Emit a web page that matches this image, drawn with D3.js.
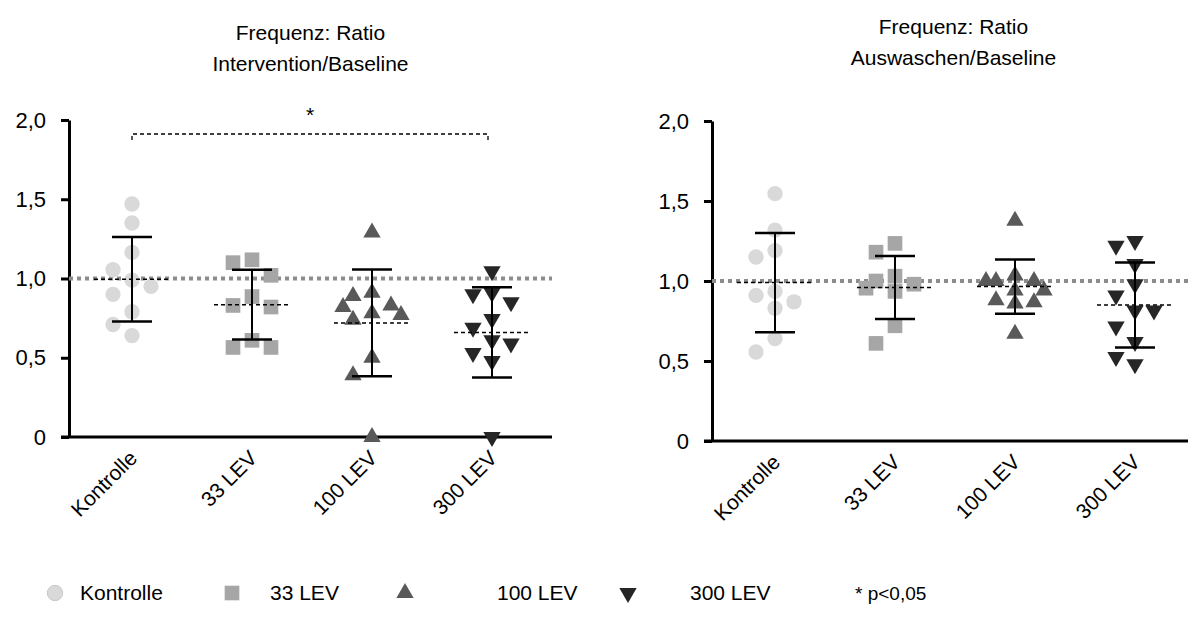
<!DOCTYPE html>
<html lang="de">
<head>
<meta charset="utf-8">
<script src="https://cdnjs.cloudflare.com/ajax/libs/d3/7.8.5/d3.min.js"></script>
<style>
  body { margin: 0; background: #fff; }
  text { font-family: "Liberation Sans", Arial, sans-serif; fill: #000; }
</style>
</head>
<body>
<svg id="chart" width="1188" height="631"></svg>
<script>
// groups and tick values
var groups = ["Kontrolle", "33 LEV", "100 LEV", "300 LEV"];
var yTicks = [0, 0.5, 1, 1.5, 2];

// Intervention / Baseline
var intKontrolle = [1.47, 1.35, 1.165, 1.055, 0.99, 0.95, 0.90, 0.79, 0.71, 0.64];
var int33 = [1.118, 1.10, 1.02, 0.886, 0.83, 0.82, 0.61, 0.565, 0.565];
var int100 = [1.29, 0.91, 0.89, 0.83, 0.82, 0.78, 0.77, 0.74, 0.50, 0.39, 0.0];
var int300 = [1.046, 0.91, 0.90, 0.85, 0.745, 0.69, 0.61, 0.59, 0.53, 0.48, 0.0];
var intMean = [0.995, 0.835, 0.72, 0.66];
var intSD = [0.267, 0.22, 0.337, 0.285];

// Auswaschen / Baseline
var ausKontrolle = [1.546, 1.318, 1.19, 1.15, 0.935, 0.91, 0.87, 0.83, 0.64, 0.556];
var aus33 = [1.235, 1.18, 1.03, 1.0, 0.98, 0.955, 0.935, 0.72, 0.61];
var aus100 = [1.376, 1.034, 1.0, 1.0, 1.0, 0.94, 0.94, 0.88, 0.867, 0.86, 0.67];
var aus300 = [1.25, 1.22, 1.106, 0.98, 0.91, 0.815, 0.815, 0.716, 0.618, 0.525, 0.48];
var ausMean = [0.99, 0.96, 0.965, 0.85];
var ausSD = [0.31, 0.197, 0.17, 0.265];

var refValue = 1.0;
var sigPair = ["Kontrolle", "300 LEV"];

var svg = d3.select("#chart");

var symbolTypes = [d3.symbolCircle, d3.symbolSquare, d3.symbolTriangle, d3.symbolTriangle];
var symbolSizes = [185, 215, 130, 130];
var symbolRot = [0, 0, 0, 180];
var fills = ["#d9d9d9", "#a6a6a6", "#595959", "#262626"];

var fmt = function(d) { return d === 0 ? "0" : d3.format(".1f")(d).replace(".", ","); };

function drawPanel(opt) {
  var g = svg.append("g");
  var y = d3.scaleLinear().domain([0, 2]).range([opt.y0, opt.y2]);
  var x = d3.scalePoint().domain(groups).range([opt.x0 + 3, opt.x0 + 483]).padding(0.5);
  var mid = (opt.x0 + opt.x0 + 483) / 2;

  // title
  g.append("text")
    .attr("x", mid)
    .attr("y", opt.titleY)
    .attr("text-anchor", "middle")
    .style("font-size", "21px")
    .selectAll("tspan")
    .data(opt.title).enter()
    .append("tspan")
    .attr("x", mid)
    .attr("dy", function(d, i) { return i === 0 ? 0 : 31; })
    .text(function(d) { return d; });

  // y axis
  var yAxis = g.append("g")
    .attr("transform", "translate(" + opt.x0 + ",0)")
    .call(d3.axisLeft(y).tickValues(yTicks).tickFormat(fmt).tickSize(8).tickSizeOuter(0).tickPadding(15));
  yAxis.select(".domain").attr("stroke-width", 3);
  yAxis.selectAll(".tick line").attr("stroke-width", 3);
  yAxis.selectAll(".tick text")
    .style("font-family", "Liberation Sans, Arial, sans-serif")
    .style("font-size", "22px")
    .attr("fill", "#000");

  // x axis line
  g.append("line")
    .attr("x1", opt.x0 - 8).attr("x2", opt.xEnd)
    .attr("y1", y(0)).attr("y2", y(0))
    .attr("stroke", "#000").attr("stroke-width", 3);

  // x labels
  g.selectAll(".xlab")
    .data(groups).enter()
    .append("text")
    .attr("class", "xlab")
    .attr("text-anchor", "end")
    .style("font-size", "21px")
    .attr("transform", function(d) { return "translate(" + (x(d) - 4) + "," + (y(0) + 12) + ") rotate(-45)"; })
    .attr("dy", "0.7em")
    .text(function(d) { return d; });

  // reference line at 1
  g.append("line")
    .attr("x1", opt.x0).attr("x2", opt.xEnd)
    .attr("y1", y(refValue)).attr("y2", y(refValue))
    .attr("stroke", "#8c8c8c").attr("stroke-width", 4)
    .attr("stroke-dasharray", "4,4");

  // points, spread sideways when they would overlap
  var offs = [0, -19, 19, -10, 10, -29, 29];
  opt.series.forEach(function(vals, gi) {
    var cx = x(groups[gi]);
    var placed = [];
    var sorted = vals.slice().sort(function(a, b) { return b - a; });
    sorted.forEach(function(v) {
      var py = y(v);
      var best = 0, bestD = -1;
      for (var k = 0; k < offs.length; k++) {
        var dmin = d3.min(placed, function(p) { return Math.hypot(p[0] - offs[k], p[1] - py); });
        if (dmin === undefined) dmin = Infinity;
        if (dmin >= 18) { best = offs[k]; break; }
        if (dmin > bestD) { bestD = dmin; best = offs[k]; }
      }
      placed.push([best, py]);
    });
    g.selectAll(".pt" + gi)
      .data(placed).enter()
      .append("path")
      .attr("d", d3.symbol().type(symbolTypes[gi]).size(symbolSizes[gi]))
      .attr("transform", function(p) { return "translate(" + (cx + p[0]) + "," + p[1] + ") rotate(" + symbolRot[gi] + ")"; })
      .attr("fill", fills[gi]);
  });

  // mean (dashed) and SD whiskers
  groups.forEach(function(name, gi) {
    var cx = x(name), m = opt.mean[gi], s = opt.sd[gi];
    g.append("line")
      .attr("x1", cx - 38).attr("x2", cx + 38)
      .attr("y1", y(m)).attr("y2", y(m))
      .attr("stroke", "#000").attr("stroke-width", 1.5)
      .attr("stroke-dasharray", "4,3");
    g.append("line")
      .attr("x1", cx).attr("x2", cx)
      .attr("y1", y(m + s)).attr("y2", y(m - s))
      .attr("stroke", "#000").attr("stroke-width", 2);
    [m + s, m - s].forEach(function(v) {
      g.append("line")
        .attr("x1", cx - 20).attr("x2", cx + 20)
        .attr("y1", y(v)).attr("y2", y(v))
        .attr("stroke", "#000").attr("stroke-width", 2.5);
    });
  });

  // significance bracket
  if (opt.sig) {
    var bx1 = x(sigPair[0]), bx2 = x(sigPair[1]) - 4, by = y(2) + 14;
    g.append("path")
      .attr("d", "M" + bx1 + "," + (by + 6) + "V" + by + "H" + bx2 + "V" + (by + 6))
      .attr("fill", "none").attr("stroke", "#000").attr("stroke-width", 1.3)
      .attr("stroke-dasharray", "4,3");
    g.append("text")
      .attr("x", (bx1 + bx2) / 2).attr("y", by - 12)
      .attr("text-anchor", "middle")
      .style("font-size", "21px")
      .text("*");
  }
}

drawPanel({
  x0: 69, xEnd: 552, y0: 437, y2: 120, titleY: 40,
  title: ["Frequenz:  Ratio", "Intervention/Baseline"],
  series: [intKontrolle, int33, int100, int300],
  mean: intMean, sd: intSD, sig: true
});

drawPanel({
  x0: 712, xEnd: 1188, y0: 441, y2: 121, titleY: 34,
  title: ["Frequenz: Ratio", "Auswaschen/Baseline"],
  series: [ausKontrolle, aus33, aus100, aus300],
  mean: ausMean, sd: ausSD, sig: false
});

// legend
var legendX = [55, 232, 405, 628];
var legendTextX = [80, 270, 497, 690];
var legendY = 593;
var leg = svg.append("g");
groups.forEach(function(name, gi) {
  leg.append("path")
    .attr("d", d3.symbol().type(symbolTypes[gi]).size(symbolSizes[gi]))
    .attr("transform", "translate(" + legendX[gi] + "," + legendY + ") rotate(" + symbolRot[gi] + ")")
    .attr("fill", fills[gi])
    .attr("stroke", gi === 0 ? "#c8c8c8" : "none");
  leg.append("text")
    .attr("x", legendTextX[gi]).attr("y", legendY)
    .attr("dy", "0.35em")
    .style("font-size", "21px")
    .text(name);
});
leg.append("text")
  .attr("x", 855).attr("y", legendY).attr("dy", "0.35em")
  .style("font-size", "19px")
  .text("* p<0,05");
</script>
</body>
</html>
